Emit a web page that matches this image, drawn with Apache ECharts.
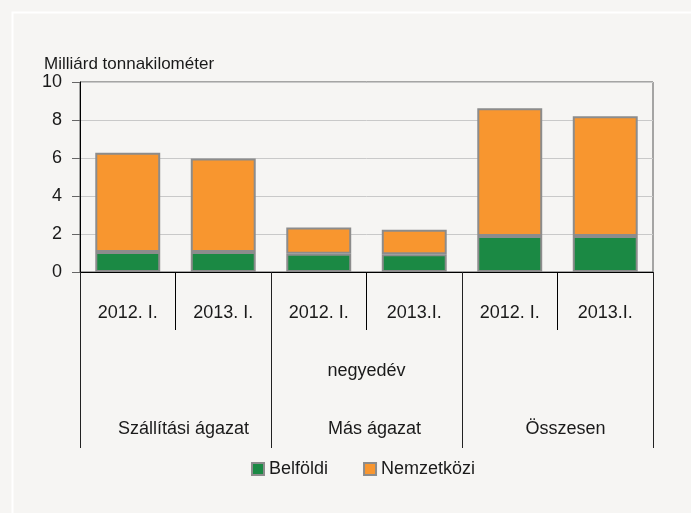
<!DOCTYPE html>
<html>
<head>
<meta charset="utf-8">
<script src="https://cdn.jsdelivr.net/npm/echarts@6/dist/echarts.min.js"></script>
<style>
  html, body { margin: 0; padding: 0; background: #f6f5f3; }
  #chart { width: 691px; height: 513px; }
</style>
</head>
<body>
<div id="chart"></div>
<script>
(function () {
    'use strict';

    // adatok
    var periods = ['2012. I.', '2013. I.', '2012. I.', '2013.I.', '2012. I.', '2013.I.'];
    var groups = ['Szállítási ágazat', 'Más ágazat', 'Összesen'];
    var periodName = ['negyedév'];
    var belfoldi = [1.05, 1.05, 0.96, 0.93, 1.9, 1.9];
    var nemzetkozi = [5.22, 4.93, 1.38, 1.3, 6.72, 6.3];
    var yTicks = [0, 2, 4, 6, 8, 10];

    var FONT = "'Liberation Sans Narrow', 'Arial Narrow', 'Liberation Sans', sans-serif";
    var txt = '#1a1a1a';

    var chart = echarts.init(document.getElementById('chart'));

    var option = {
        backgroundColor: '#f6f5f3',
        textStyle: { fontFamily: FONT, color: txt },
        title: {
            text: 'Milliárd tonnakilométer',
            left: 39,
            top: 51,
            textStyle: { fontFamily: FONT, fontSize: 17, fontWeight: 'normal', color: txt }
        },
        legend: {
            left: 246,
            top: 455,
            icon: 'rect',
            itemWidth: 12,
            itemHeight: 12,
            itemGap: 35,
            textStyle: { fontFamily: FONT, fontSize: 18, color: txt },
            data: ['Belföldi', 'Nemzetközi']
        },
        grid: {
            left: 80,
            right: 38,
            top: 82,
            bottom: 241,
            show: true,
            borderColor: '#555',
            borderWidth: 1,
            containLabel: false
        },
        xAxis: [
            {
                type: 'category',
                data: periods,
                position: 'bottom',
                axisLine: { lineStyle: { color: '#000', width: 1 } },
                axisTick: { show: true, interval: 0, length: 58, lineStyle: { color: '#000' } },
                axisLabel: { interval: 0, margin: 32, fontFamily: FONT, fontSize: 18, color: txt }
            },
            {
                type: 'category',
                data: groups,
                position: 'bottom',
                axisLine: { show: false },
                axisTick: { show: true, interval: 0, length: 176, lineStyle: { color: '#222' } },
                axisLabel: { interval: 0, margin: 148, padding: [0, 0, 0, 16], fontFamily: FONT, fontSize: 18, color: txt }
            },
            {
                type: 'category',
                data: periodName,
                position: 'bottom',
                axisLine: { show: false },
                axisTick: { show: false },
                axisLabel: { margin: 90, fontFamily: FONT, fontSize: 18, color: txt }
            }
        ],
        yAxis: {
            type: 'value',
            min: yTicks[0],
            max: yTicks[yTicks.length - 1],
            interval: 2,
            axisLine: { show: true, lineStyle: { color: '#000' } },
            axisTick: { show: true, length: 8, lineStyle: { color: '#666' } },
            axisLabel: { margin: 18, fontFamily: FONT, fontSize: 18, color: txt },
            splitLine: { show: true, lineStyle: { color: '#c9c9c9', width: 1 } }
        },
        series: [
            {
                name: 'Belföldi',
                type: 'bar',
                stack: 'osszes',
                xAxisIndex: 0,
                barCategoryGap: '32%',
                data: belfoldi,
                itemStyle: { color: '#1b8944', borderColor: '#8c8c8c', borderWidth: 2 }
            },
            {
                name: 'Nemzetközi',
                type: 'bar',
                stack: 'osszes',
                xAxisIndex: 0,
                barCategoryGap: '32%',
                data: nemzetkozi,
                itemStyle: { color: '#f8962f', borderColor: '#8c8c8c', borderWidth: 2 }
            }
        ],
        graphic: [
            {
                type: 'rect',
                left: 10,
                top: 10,
                shape: { width: 700, height: 520 },
                style: { fill: 'none', stroke: '#ffffff', lineWidth: 2 },
                silent: true
            }
        ]
    };

    chart.setOption(option);
})();
</script>
</body>
</html>
